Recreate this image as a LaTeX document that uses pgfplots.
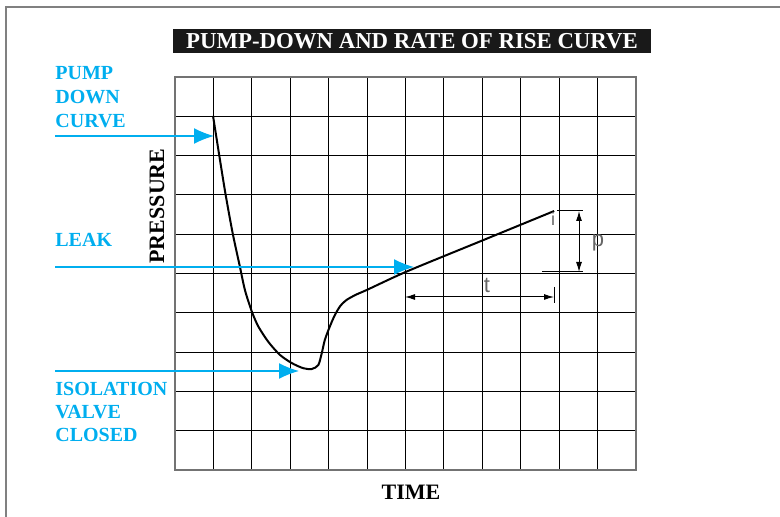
\documentclass[border=0pt]{standalone}
\usepackage{pgfplots}
\pgfplotsset{compat=1.18}
\usetikzlibrary{arrows.meta}
\usepackage{fontspec}
\setmainfont{Liberation Serif}
\newfontfamily\thinsans{Liberation Sans}
\definecolor{cyanblue}{RGB}{0,174,239}

\begin{document}
\begin{tikzpicture}
\path[use as bounding box] (0,0) rectangle (390pt,-258.5pt);
\draw[black!50, line width=0.8pt] (3pt,-258.5pt) -- (3pt,-3.5pt) -- (390pt,-3.5pt);

\begin{axis}[
    at={(87.5pt,-235pt)}, anchor=south west,
    width=230.5pt, height=196.5pt, scale only axis,
    xmin=0, xmax=12, ymin=0, ymax=10,
    xtick={0,...,12}, ytick={0,...,10},
    xticklabels={}, yticklabels={},
    major tick length=0pt,
    grid=major,
    grid style={black, line width=0.55pt},
    axis line style={black!55, line width=0.9pt},
    clip=false
]
% pump-down curve and rate of rise
\addplot[black, line width=1pt, smooth, tension=0.45] coordinates {
    (0.99,9.01) (1.13,8.14) (1.31,7.05) (1.50,6.03) (1.69,5.17)
    (1.82,4.58) (2.00,4.03) (2.17,3.65) (2.43,3.26) (2.73,2.93)
    (3.04,2.72) (3.34,2.59) (3.56,2.57) (3.73,2.67) (3.82,2.97)
    (3.90,3.31) (4.03,3.65) (4.16,3.94) (4.30,4.17) (4.47,4.33)
    (4.73,4.47) (4.99,4.58) (6.03,5.05) (7.95,5.82) (9.87,6.59)
};
\end{axis}

\begin{scope}[x=0.5pt, y=-0.5pt]
% title
\node[fill=black!90, text=white, minimum width=239pt, minimum height=12pt, inner sep=0pt]
    at (412,41) {\fontsize{11.4}{12}\selectfont\bfseries PUMP-DOWN AND RATE OF RISE CURVE};

% axis labels
\node[rotate=90, font=\fontsize{11}{12}\selectfont\bfseries] at (157,206) {PRESSURE};
\node[font=\fontsize{11}{12}\selectfont\bfseries] at (411,492) {TIME};

% blue labels
\begin{scope}[cyanblue, font=\fontsize{10}{12}\selectfont\bfseries]
\node[anchor=base west, inner sep=0pt] at (55,80) {PUMP};
\node[anchor=base west, inner sep=0pt] at (55,104) {DOWN};
\node[anchor=base west, inner sep=0pt] at (55,128) {CURVE};
\node[anchor=base west, inner sep=0pt] at (55,247) {LEAK};
\node[anchor=base west, inner sep=0pt] at (55,395) {ISOLATION};
\node[anchor=base west, inner sep=0pt] at (55,418) {VALVE};
\node[anchor=base west, inner sep=0pt] at (55,441) {CLOSED};
\end{scope}
\begin{scope}[cyanblue, line width=0.75pt, -{Latex[length=10pt, width=8pt]}]
\draw (55,136) -- (214,136);
\draw (55,267) -- (414,267);
\draw (55,371) -- (299,371);
\end{scope}

% p and t dimensions
\draw[line width=0.5pt] (557,211) -- (583,211);
\draw[line width=0.5pt] (542,272) -- (583,272);
\draw[line width=0.5pt, {Latex[length=5pt, width=3pt]}-{Latex[length=5pt, width=3pt]}] (579,211) -- (579,272);
\node[text=black!60, font=\thinsans\fontsize{11}{12}\selectfont] at (598,243) {p};
\draw[line width=0.5pt, {Latex[length=5pt, width=3pt]}-{Latex[length=5pt, width=3pt]}] (405,297) -- (554,297);
\draw[line width=0.5pt] (554,287) -- (554,303);
\node[text=black!60, font=\thinsans\fontsize{11}{12}\selectfont] at (487,285) {t};
\node[text=black!60, font=\thinsans\fontsize{9}{10}\selectfont] at (553,219) {i};
\end{scope}
\end{tikzpicture}
\end{document}
